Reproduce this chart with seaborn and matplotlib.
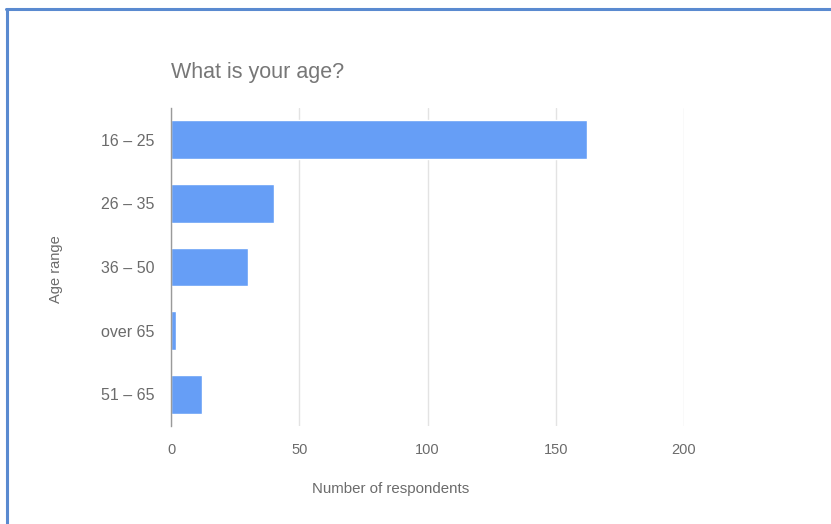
import seaborn as sns
import matplotlib.pyplot as plt
from matplotlib.lines import Line2D

# data
age_ranges = ["16 – 25", "26 – 35", "36 – 50", "over 65", "51 – 65"]
respondents = [162, 40, 30, 2, 12]
x_ticks = [0, 50, 100, 150, 200]

sns.set_style("white")
plt.rcParams['font.family'] = ['Liberation Sans', 'DejaVu Sans']

fig = plt.figure(figsize=(8.31, 5.24), dpi=100)
ax = fig.add_axes([0.2058, 0.187, 0.6173, 0.607])

sns.barplot(x=respondents, y=age_ranges, orient='h', color='#669ef6',
            saturation=1, width=0.61, ax=ax)

ax.set_xlim(0, 200)
ax.set_xticks(x_ticks)
ax.grid(axis='x', color='#e3e3e3', linewidth=1)
ax.set_axisbelow(True)
for s in ['top', 'right', 'bottom']:
    ax.spines[s].set_visible(False)
ax.spines['left'].set_color('#9a9a9a')
ax.spines['left'].set_linewidth(1)
ax.tick_params(axis='both', length=0, labelsize=10.5, colors='#6b6b6b')
ax.tick_params(axis='y', pad=12, labelsize=11.5)
ax.tick_params(axis='x', pad=12)
ax.set_xlabel("")
ax.set_ylabel("")

fig.text(0.2058, 0.861, "What is your age?", fontsize=15.5, color='#777777',
         ha='left', va='center')
fig.text(0.0674, 0.487, "Age range", fontsize=10.5, color='#6b6b6b',
         rotation=90, ha='center', va='center')
fig.text(0.4705, 0.066, "Number of respondents", fontsize=10.8, color='#6b6b6b',
         ha='center', va='center')

# blue frame on top and left
fig.add_artist(Line2D([0.0078, 1], [0.9819, 0.9819], color='#5a8ad0', linewidth=2.2,
                      transform=fig.transFigure))
fig.add_artist(Line2D([0.0084, 0.0084], [0, 0.9819], color='#5a8ad0', linewidth=2.2,
                      transform=fig.transFigure))

fig.savefig("out.png", dpi=100, facecolor='white')
